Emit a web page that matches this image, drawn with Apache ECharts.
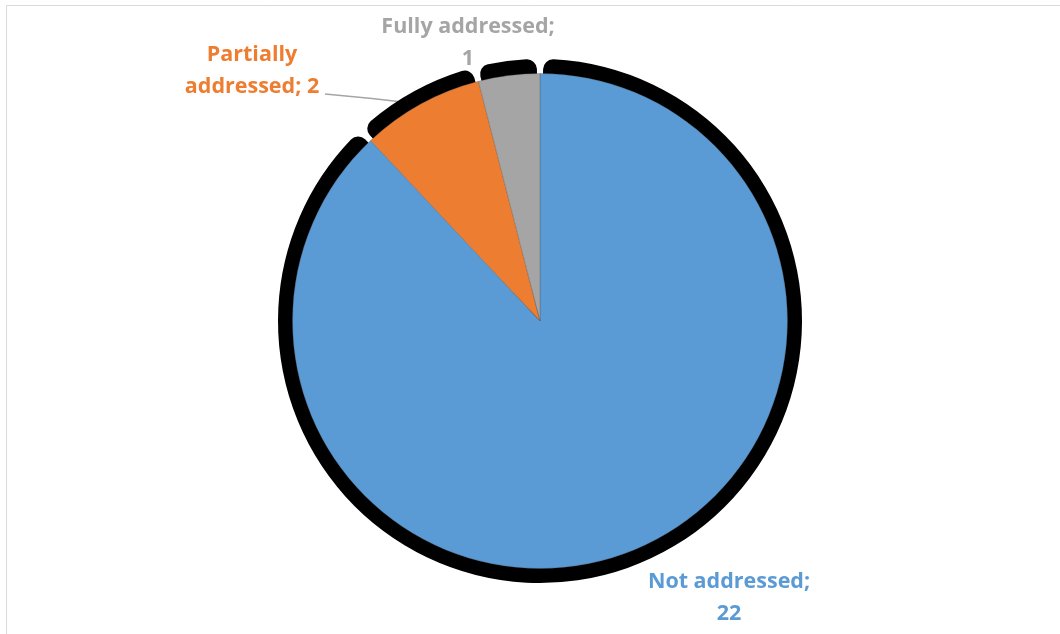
<!DOCTYPE html>
<html>
<head>
<meta charset="utf-8">
<script src="https://cdn.jsdelivr.net/npm/echarts@6/dist/echarts.min.js"></script>
<style>
html,body{margin:0;padding:0;background:#fff;}
#chart{width:1060px;height:634px;}
</style>
</head>
<body>
<div id="chart"></div>
<script>
const categories = ['Not addressed', 'Partially addressed', 'Fully addressed'];
const values = [22, 2, 1];
const labelTexts = ['Not addressed;\n22', 'Partially\naddressed; 2', 'Fully addressed;\n1'];
const colors = ['#5B9BD5', '#ED7D31', '#A5A5A5'];

const labelPos = [
  {x: 729, y: 598},
  {x: 252, y: 71},
  {x: 468, y: 43}
];

const chart = echarts.init(document.getElementById('chart'), null, {renderer: 'canvas'});
const data = categories.map((c, i) => ({
  name: c,
  value: values[i],
  itemStyle: {color: colors[i]},
  label: {color: colors[i]},
  labelLine: {show: i === 1}
}));

chart.setOption({
  animation: false,
  backgroundColor: '#fff',
  graphic: [{
    type: 'rect',
    shape: {x: 6.5, y: 5.5, width: 1200, height: 800},
    style: {fill: 'none', stroke: '#d9d9d9', lineWidth: 1},
    silent: true
  }],
  series: [
    {
      type: 'pie',
      silent: true,
      center: [540, 321],
      radius: [0, 262],
      startAngle: 90,
      clockwise: true,
      padAngle: 1.4,
      itemStyle: {color: '#000', borderRadius: 10},
      label: {show: false},
      labelLine: {show: false},
      data: values.map((v, i) => ({name: categories[i], value: v}))
    },
    {
      type: 'pie',
      center: [540, 321],
      radius: [0, 247.5],
      startAngle: 90,
      clockwise: true,
      itemStyle: {borderColor: 'rgba(80,80,80,0.5)', borderWidth: 0.6},
      label: {
        show: true,
        position: 'outside',
        formatter: p => labelTexts[p.dataIndex],
        fontFamily: 'Open Sans',
        fontWeight: 'bold',
        fontSize: 21.5,
        lineHeight: 32,
        align: 'center'
      },
      labelLine: {lineStyle: {color: '#A5A5A5', width: 1.5}},
      labelLayout: function (params) {
        const p = labelPos[params.dataIndex];
        const out = {x: p.x, y: p.y, align: 'center', verticalAlign: 'middle'};
        if (params.dataIndex === 1) {
          out.labelLinePoints = [[420, 104], [372, 98.5], [325, 94]];
        }
        return out;
      },
      data: data
    }
  ]
});
</script>
</body>
</html>
